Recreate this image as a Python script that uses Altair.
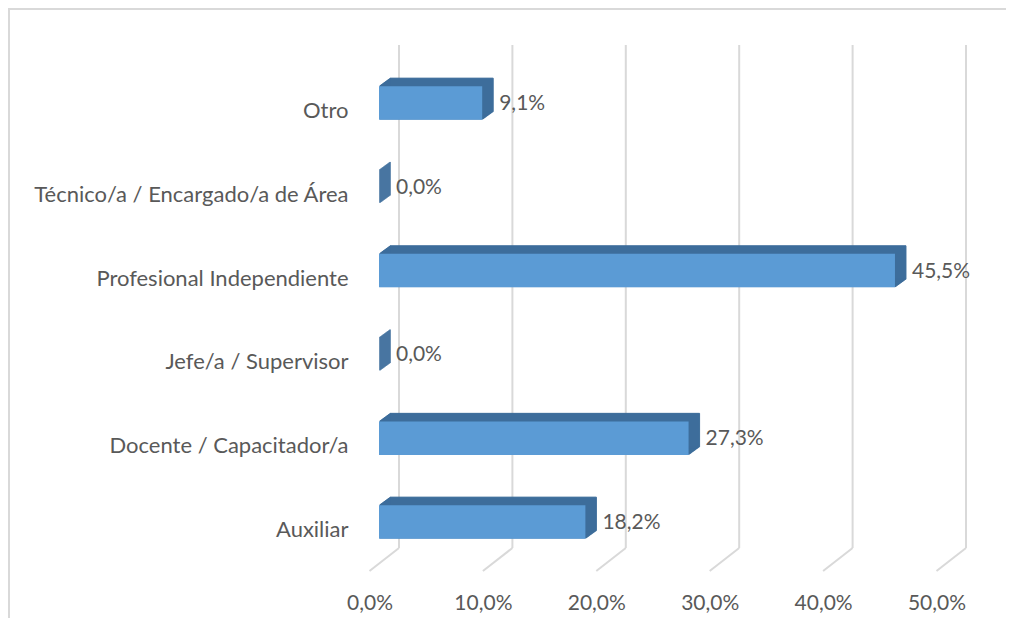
import altair as alt
import pandas as pd

categories = ["Otro", "Técnico/a / Encargado/a de Área", "Profesional Independiente",
              "Jefe/a / Supervisor", "Docente / Capacitador/a", "Auxiliar"]
values = [9.1, 0.0, 45.5, 0.0, 27.3, 18.2]
tick_values = [0, 10, 20, 30, 40, 50]
tick_labels = ["0,0%", "10,0%", "20,0%", "30,0%", "40,0%", "50,0%"]

FONT = "Lato"
FS = 21
TXT = "#595959"
GRID = "#d9d9d9"
FRONT = "#5b9bd5"
DARK = "#3d6d9b"

bars = pd.DataFrame({
    "cat": categories,
    "val": values,
    "lab": [f"{v:.1f}%".replace(".", ",") for v in values],
})
ticks = pd.DataFrame({"t": tick_values, "lab": tick_labels})

W, H = 567, 536.3
xs = alt.Scale(domain=[0, 50], nice=False, zero=True)
ys = alt.Scale(domain=categories, paddingInner=0.6, paddingOuter=0.5)
yaxis = alt.Axis(title=None, domain=False, ticks=False, grid=False, labelPadding=31,
                 labelOffset=8, labelFont=FONT, labelFontSize=22,
                 labelColor=TXT, labelLimit=400)
Y = alt.Y("cat:N", scale=ys, sort=categories, axis=yaxis)

base_b = alt.Chart(bars)
front = base_b.mark_bar(color=FRONT).encode(
    x=alt.X("val:Q", scale=xs, axis=None), y=Y)

base_t = alt.Chart(ticks)
grid = base_t.mark_rule(color=GRID, strokeWidth=2, xOffset=20, x2Offset=20).encode(
    x=alt.X("t:Q", scale=xs, axis=None), y=alt.value(0.7), y2=alt.value(503.7))
slant = base_t.mark_rule(color=GRID, strokeWidth=2, xOffset=20, x2Offset=-9.5).encode(
    x=alt.X("t:Q", scale=xs, axis=None), x2="t:Q", y=alt.value(503.7), y2=alt.value(526.7))
tlab = base_t.mark_text(font=FONT, fontSize=FS, color=TXT, xOffset=-9, baseline="middle").encode(
    x=alt.X("t:Q", scale=xs, axis=None), y=alt.value(559.5), text="lab:N")

layers = [grid, slant, tlab]
for k in range(1, 12):
    dy = -0.73 * k
    layers.append(base_b.mark_bar(color=DARK, stroke=DARK, strokeWidth=1,
                                  xOffset=k, x2Offset=k, yOffset=dy, y2Offset=dy).encode(
        x=alt.X("val:Q", scale=xs, axis=None), y=Y))

vlab = base_b.mark_text(font=FONT, fontSize=FS, color=TXT, align="left",
                        baseline="middle", dx=17, dy=1).encode(
    x=alt.X("val:Q", scale=xs, axis=None), y=Y, text="lab:N")
layers += [front, vlab]

border = alt.Chart(ticks.head(1))
btop = border.mark_rule(color=GRID, strokeWidth=2).encode(
    x=alt.value(-371), x2=alt.value(700), y=alt.value(-35.3))
bleft = border.mark_rule(color=GRID, strokeWidth=2).encode(
    x=alt.value(-370), y=alt.value(-36), y2=alt.value(620))
layers += [btop, bleft]

chart = alt.layer(*layers).properties(
    width=W, height=H,
    padding={"left": 371, "top": 36.3, "right": 60, "bottom": 37},
    autosize=alt.AutoSizeParams(type="none"),
    background="white",
).configure_view(stroke=None)

chart.save("out.html", embed_options={"renderer": "svg", "actions": False})
